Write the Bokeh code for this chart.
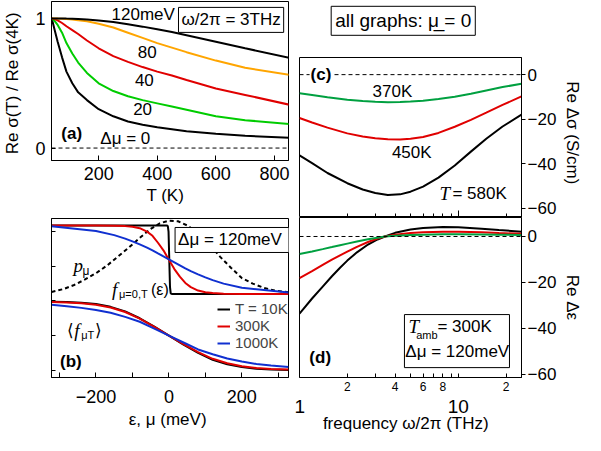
from bokeh.plotting import figure
from bokeh.models import (Range1d, FixedTicker, LogAxis, Label, Span, Legend,
                          LegendItem, BoxAnnotation)
from bokeh.layouts import row, column
from bokeh.embed import file_html
from bokeh.resources import INLINE

SANS = "Liberation Sans"
SERIF = "Liberation Serif"

# ---------------- data: panel (a) ----------------
T_a = [40, 50, 60, 75, 90, 110, 130, 160, 200, 250, 300, 350, 400, 450, 500, 600, 700, 850]
sig_120 = [1.0, 1.0, 1.0, 1.0, 0.999, 0.998, 0.996, 0.992, 0.985, 0.972, 0.955, 0.937, 0.917, 0.895, 0.87, 0.82, 0.77, 0.697]
sig_80 = [1.0, 1.0, 0.999, 0.998, 0.996, 0.992, 0.987, 0.978, 0.96, 0.93, 0.89, 0.85, 0.81, 0.775, 0.74, 0.675, 0.62, 0.565]
sig_40 = [1.0, 0.995, 0.985, 0.965, 0.94, 0.91, 0.88, 0.83, 0.77, 0.71, 0.665, 0.625, 0.59, 0.56, 0.525, 0.46, 0.41, 0.335]
sig_20 = [1.0, 0.98, 0.95, 0.89, 0.81, 0.73, 0.66, 0.58, 0.50, 0.44, 0.40, 0.37, 0.345, 0.32, 0.295, 0.245, 0.215, 0.186]
sig_0 = [1.0, 0.91, 0.82, 0.70, 0.59, 0.50, 0.43, 0.37, 0.30, 0.245, 0.205, 0.18, 0.16, 0.145, 0.13, 0.11, 0.095, 0.080]
a_ticks_x = [200, 400, 600, 800]
a_ticks_y = [0, 1]

# ---------------- data: panel (b) ----------------
eps_step = [-322, -6, -3, -1, 1, 3, 5, 8, 328]
f_up_10K = [2.09, 2.09, 2.08, 2.0, 1.6, 1.2, 1.11, 1.10, 1.10]
eps_up = [-322, -200, -150, -120, -100, -80, -60, -45, -30, -15, 0, 15, 30, 45, 60, 80, 100, 120, 150, 200, 328]
f_up_300K = [2.09, 2.09, 2.087, 2.08, 2.07, 2.05, 2.0, 1.94, 1.84, 1.73, 1.595, 1.46, 1.35, 1.26, 1.2, 1.15, 1.125, 1.113, 1.105, 1.10, 1.10]
f_up_1000K = [2.077, 2.01, 1.95, 1.90, 1.86, 1.817, 1.77, 1.73, 1.686, 1.643, 1.60, 1.557, 1.514, 1.47, 1.43, 1.383, 1.34, 1.30, 1.25, 1.19, 1.123]
mu_p = [-322, -290, -260, -230, -200, -170, -140, -110, -80, -50, -25, 0, 25, 50, 80, 110, 140, 170, 200, 230, 260, 290, 328]
p_mu = [1.13, 1.17, 1.23, 1.31, 1.40, 1.51, 1.64, 1.77, 1.91, 2.04, 2.12, 2.16, 2.15, 2.09, 1.98, 1.82, 1.64, 1.48, 1.33, 1.25, 1.19, 1.15, 1.125]
eps_lo = [-322, -280, -240, -200, -160, -120, -80, -40, 0, 40, 80, 120, 160, 200, 240, 280, 328]
favg_10K = [0.99, 0.985, 0.975, 0.955, 0.915, 0.85, 0.75, 0.63, 0.5, 0.37, 0.25, 0.15, 0.085, 0.045, 0.022, 0.01, 0.004]
favg_300K = [0.985, 0.978, 0.966, 0.945, 0.905, 0.84, 0.745, 0.625, 0.5, 0.375, 0.26, 0.165, 0.10, 0.058, 0.032, 0.018, 0.01]
favg_1000K = [0.945, 0.925, 0.90, 0.87, 0.83, 0.77, 0.70, 0.60, 0.5, 0.40, 0.30, 0.23, 0.17, 0.125, 0.09, 0.067, 0.048]
b_ticks_x = [-200, 0, 200]
b_minor_x = [-300, -100, 100, 300]
b_ticks_y = [0, 0.5, 1, 1.5, 2]

# ---------------- data: panel (c) ----------------
freq_c = [1, 1.2, 1.5, 2, 2.5, 3, 3.6, 4.3, 5, 6, 7.5, 9.5, 12, 15, 19, 25]
dsig_370 = [-8.4, -9.2, -10.2, -11.3, -11.9, -12.2, -12.4, -12.35, -12.1, -11.7, -10.9, -9.9, -8.6, -7.1, -5.6, -4.1]
dsig_450 = [-19.5, -21.5, -23.8, -26.4, -27.8, -28.6, -29.0, -29.1, -28.8, -28.0, -26.2, -23.4, -20.3, -17.1, -13.6, -9.8]
dsig_580 = [-36.3, -39.8, -44.2, -48.8, -51.6, -53.2, -54.1, -53.8, -52.6, -50.3, -46.3, -40.8, -34.6, -28.8, -23.3, -18.0]

# ---------------- data: panel (d) ----------------
freq_d = [1, 1.2, 1.4, 1.6, 1.8, 2.0, 2.3, 2.7, 3.1, 3.45, 4, 5, 6, 8, 10, 14, 18, 25]
deps_black = [-33.6, -27, -21.8, -17.3, -13.6, -10.5, -6.9, -3.5, -1.3, 0, 1.6, 3.0, 3.7, 4.1, 4.0, 3.4, 2.8, 2.1]
deps_red = [-18.1, -15.1, -12.4, -10.1, -8.2, -6.6, -4.5, -2.4, -0.9, 0, 0.8, 1.5, 1.9, 2.1, 2.1, 1.8, 1.5, 1.2]
deps_green = [-7.6, -6.5, -5.5, -4.6, -3.8, -3.1, -2.2, -1.2, -0.5, 0, 0.3, 0.6, 0.8, 0.95, 1.0, 0.9, 0.8, 0.7]
cd_ticks_y = [0, -20, -40, -60]
c_minor_x = [2, 3, 4, 5, 6, 7, 8, 9, 20]
d_minor_lab = [2, 4, 6, 8, 20]
d_minor_nolab = [3, 5, 7, 9, 10]
d_major = [1, 10]

BLACK = "#000000"
ORANGE = "#FFA500"
RED = "#E00000"
GREEN_A = "#00CC00"
GREEN_C = "#00A040"
BLUE = "#1030D0"


def base(p):
    p.grid.visible = False
    p.outline_line_color = "black"
    p.outline_line_alpha = 1
    p.background_fill_color = "white"
    p.border_fill_color = "white"


def style_axis(ax, size="18px"):
    ax.major_label_text_font = SANS
    ax.major_label_text_font_size = size
    ax.major_label_text_color = "black"
    ax.axis_label_text_font = SANS
    ax.axis_label_text_font_size = "17px"
    ax.axis_label_text_font_style = "normal"
    ax.axis_label_text_color = "black"
    ax.axis_line_color = "black"
    ax.major_tick_line_color = "black"
    ax.minor_tick_line_color = None


def lab(p, x, y, text, size="17px", align="center", font=SANS, style="normal",
        xo=0, yo=0, **kw):
    p.add_layout(Label(x=x, y=y, text=text, text_font=font, text_font_size=size,
                       text_font_style=style, text_align=align,
                       text_baseline="middle", x_offset=xo, y_offset=yo,
                       text_color="black", **kw))


# ================= panel (a) =================
pa = figure(width=294, height=210, x_range=Range1d(39, 848), y_range=Range1d(-0.096, 1.131),
            output_backend="svg", toolbar_location=None,
            min_border_left=40, min_border_right=6, min_border_top=1, min_border_bottom=50)
base(pa)
for ax in pa.xaxis + pa.yaxis:
    style_axis(ax)
pa.xaxis.ticker = FixedTicker(ticks=a_ticks_x)
pa.yaxis.ticker = FixedTicker(ticks=a_ticks_y)
pa.xaxis.major_tick_in = 5
pa.xaxis.major_tick_out = 0
pa.yaxis.major_tick_in = 4
pa.yaxis.major_tick_out = 0
pa.xaxis.major_label_standoff = 6
pa.yaxis.major_label_standoff = 6
pa.xaxis.axis_label = "T   (K)"
pa.yaxis.axis_label = "Re σ(T) /  Re σ(4K)"
pa.xaxis.axis_label_standoff = 3
pa.yaxis.axis_label_standoff = 10
pa.add_layout(Span(location=0, dimension="width", line_color="black", line_width=1, line_dash="4 3"))
pa.line(T_a, sig_0, line_color=BLACK, line_width=2)
pa.line(T_a, sig_20, line_color=GREEN_A, line_width=2)
pa.line(T_a, sig_40, line_color=RED, line_width=2)
pa.line(T_a, sig_80, line_color=ORANGE, line_width=2)
pa.line(T_a, sig_120, line_color=BLACK, line_width=2)
lab(pa, 352, 1.03, "120meV")
lab(pa, 366, 0.741, "80")
lab(pa, 356, 0.528, "40")
lab(pa, 350, 0.302, "20")
lab(pa, 291, 0.075, "Δμ = 0")
lab(pa, 108, 0.113, "(a)", style="bold")
lab(pa, 652, 0.989, "ω/2π = 3THz", border_line_color="black", border_line_width=1,
    background_fill_color="white", padding=3)

# ================= panel (b) =================
pb = figure(width=294, height=225, x_range=Range1d(-322, 328), y_range=Range1d(-0.105, 2.19),
            output_backend="svg", toolbar_location=None,
            min_border_left=40, min_border_right=6, min_border_top=8, min_border_bottom=58)
base(pb)
for ax in pb.xaxis + pb.yaxis:
    style_axis(ax)
pb.xaxis.ticker = FixedTicker(ticks=b_ticks_x, minor_ticks=b_minor_x)
pb.xaxis.major_tick_in = 5
pb.xaxis.major_tick_out = 0
pb.xaxis.minor_tick_in = 5
pb.xaxis.minor_tick_out = 0
pb.xaxis.minor_tick_line_color = "black"
pb.xaxis.major_label_standoff = 12
pb.xaxis.axis_label = "ε, μ  (meV)"
pb.xaxis.axis_label_standoff = 4
pb.yaxis.ticker = FixedTicker(ticks=b_ticks_y)
pb.yaxis.major_label_overrides = {t: "" for t in b_ticks_y}
pb.yaxis.major_tick_in = 4
pb.yaxis.major_tick_out = 0
pb.line(mu_p, p_mu, line_color="black", line_width=2, line_dash="4 3")
r10 = pb.line(eps_step, f_up_10K, line_color=BLACK, line_width=2)
r300 = pb.line(eps_up, f_up_300K, line_color=RED, line_width=2)
r1000 = pb.line(eps_up, f_up_1000K, line_color=BLUE, line_width=2)
pb.line(eps_lo, favg_10K, line_color=BLACK, line_width=2)
pb.line(eps_lo, favg_300K, line_color=RED, line_width=2)
pb.line(eps_lo, favg_1000K, line_color=BLUE, line_width=2)
lab(pb, 174, 1.88, "Δμ  = 120meV", border_line_color="black", border_line_width=1,
    background_fill_color="white", padding=3)
lab(pb, -262, 1.51, "p", size="19px", font=SERIF, style="italic", align="left")
lab(pb, -262, 1.51, "μ", size="12px", align="left", xo=9, yo=-5)
lab(pb, -156, 1.17, "f", size="19px", font=SERIF, style="italic", align="left")
lab(pb, -156, 1.17, "μ=0,T", size="11px", align="left", xo=7, yo=-5)
lab(pb, -156, 1.17, "(ε)", size="16px", align="left", xo=39)
lab(pb, -279, 0.58, "⟨", size="17px", align="left")
lab(pb, -279, 0.58, "f", size="19px", font=SERIF, style="italic", align="left", xo=7)
lab(pb, -279, 0.58, "μT", size="11px", align="left", xo=14, yo=-5)
lab(pb, -279, 0.58, "⟩", size="17px", align="left", xo=28)
lab(pb, -269, 0.13, "(b)", style="bold")
leg = Legend(items=[LegendItem(label="T = 10K", renderers=[r10]),
                    LegendItem(label="300K", renderers=[r300]),
                    LegendItem(label="1000K", renderers=[r1000])],
             location=(166, 26), border_line_color=None, background_fill_alpha=0,
             padding=0, margin=0, spacing=0, glyph_width=13, glyph_height=16,
             label_height=16, label_standoff=5, label_text_font=SANS,
             label_text_font_size="15px")
pb.add_layout(leg)

# ================= panels (c), (d) and header share the frequency range =================
xr = Range1d(1, 25)

ph = figure(width=291, height=56, x_range=xr, y_range=Range1d(0, 56), x_axis_type="log",
            output_backend="svg", toolbar_location=None, x_axis_location=None,
            y_axis_location=None, min_border_left=5, min_border_right=57,
            min_border_top=0, min_border_bottom=0)
ph.grid.visible = False
ph.outline_line_color = None
ph.background_fill_color = "white"
ph.border_fill_color = "white"
lab(ph, 4.5, 35.7, "all graphs: μ\u0332 = 0", size="19px", border_line_color="black",
    border_line_width=1, background_fill_color="white", padding=4)

pc = figure(width=291, height=161, x_range=xr, y_range=Range1d(-64.2, 7.7),
            x_axis_type="log", y_axis_location="right",
            output_backend="svg", toolbar_location=None,
            min_border_left=5, min_border_right=57, min_border_top=1, min_border_bottom=0)
base(pc)
for ax in pc.xaxis + pc.yaxis:
    style_axis(ax, size="17px")
pc.xaxis.ticker = FixedTicker(ticks=[10], minor_ticks=c_minor_x)
pc.xaxis.major_label_overrides = {10: ""}
pc.xaxis.major_label_text_font_size = "2px"
pc.xaxis.major_tick_in = 7
pc.xaxis.major_tick_out = 0
pc.xaxis.minor_tick_in = 4
pc.xaxis.minor_tick_out = 0
pc.xaxis.minor_tick_line_color = "black"
pc.xaxis.major_label_standoff = 0
pc.yaxis.ticker = FixedTicker(ticks=cd_ticks_y)
pc.yaxis.major_tick_out = 4
pc.yaxis.major_tick_in = 0
pc.yaxis.major_label_standoff = 2
pc.yaxis.axis_label = "Re Δσ   (S/cm)"
pc.yaxis.axis_label_standoff = 4
pc.add_layout(Span(location=0, dimension="width", line_color="black", line_width=1, line_dash="4 3"))
pc.line(freq_c, dsig_370, line_color=GREEN_C, line_width=2)
pc.line(freq_c, dsig_450, line_color=RED, line_width=2)
pc.line(freq_c, dsig_580, line_color=BLACK, line_width=2)
lab(pc, 1.365, 0, "(c)", style="bold", background_fill_color="white", padding=1)
lab(pc, 3.85, -7.7, "370K")
lab(pc, 5.09, -35.2, "450K")
lab(pc, 7.6, -53.4, "T", size="19px", font=SERIF, style="italic", align="left")
lab(pc, 7.6, -53.4, "= 580K", align="left", xo=13)

pd_ = figure(width=291, height=218, x_range=xr, y_range=Range1d(-61.4, 8.27),
             x_axis_type="log", y_axis_location="right",
             output_backend="svg", toolbar_location=None,
             min_border_left=5, min_border_right=57, min_border_top=0, min_border_bottom=58)
base(pd_)
for ax in pd_.xaxis + pd_.yaxis:
    style_axis(ax, size="17px")
pd_.xaxis.ticker = FixedTicker(ticks=d_minor_lab, minor_ticks=d_minor_nolab)
pd_.xaxis.major_label_overrides = {20: "2"}
pd_.xaxis.major_label_text_font_size = "12px"
pd_.xaxis.major_tick_in = 4
pd_.xaxis.major_tick_out = 0
pd_.xaxis.minor_tick_in = 4
pd_.xaxis.minor_tick_out = 0
pd_.xaxis.minor_tick_line_color = "black"
pd_.xaxis.major_label_standoff = 4
ax2 = LogAxis(ticker=FixedTicker(ticks=d_major), major_label_overrides={1: "1", 10: "10"})
style_axis(ax2, size="19px")
ax2.axis_line_color = None
ax2.major_tick_line_color = None
ax2.major_label_standoff = 0
ax2.axis_label = "frequency ω/2π   (THz)"
ax2.axis_label_standoff = -2
pd_.add_layout(ax2, "below")
pd_.yaxis.ticker = FixedTicker(ticks=cd_ticks_y)
pd_.yaxis.major_tick_out = 4
pd_.yaxis.major_tick_in = 0
pd_.yaxis.major_label_standoff = 2
pd_.yaxis.axis_label = "Re Δε"
pd_.yaxis.axis_label_standoff = 4
pd_.add_layout(Span(location=0, dimension="width", line_color="black", line_width=1, line_dash="4 3"))
pd_.line(freq_d, deps_black, line_color=BLACK, line_width=2)
pd_.line(freq_d, deps_red, line_color=RED, line_width=2)
pd_.line(freq_d, deps_green, line_color=GREEN_C, line_width=2)
pd_.add_layout(BoxAnnotation(left=4.58, right=21.0, top=-34.0, bottom=-57.1,
                             fill_color="white", fill_alpha=1, line_color="black",
                             line_width=1, line_alpha=1))
lab(pd_, 4.86, -39.3, "T", size="19px", font=SERIF, style="italic", align="left")
lab(pd_, 5.43, -42.8, "amb", size="11px", align="left")
lab(pd_, 7.39, -39.3, "= 300K", align="left")
lab(pd_, 4.64, -50.0, "Δμ = 120meV", align="left")
lab(pd_, 1.35, -52.9, "(d)", style="bold")

layout = row(column(pa, pb), column(ph, pc, pd_))
open("out.html", "w").write(file_html(layout, INLINE))
